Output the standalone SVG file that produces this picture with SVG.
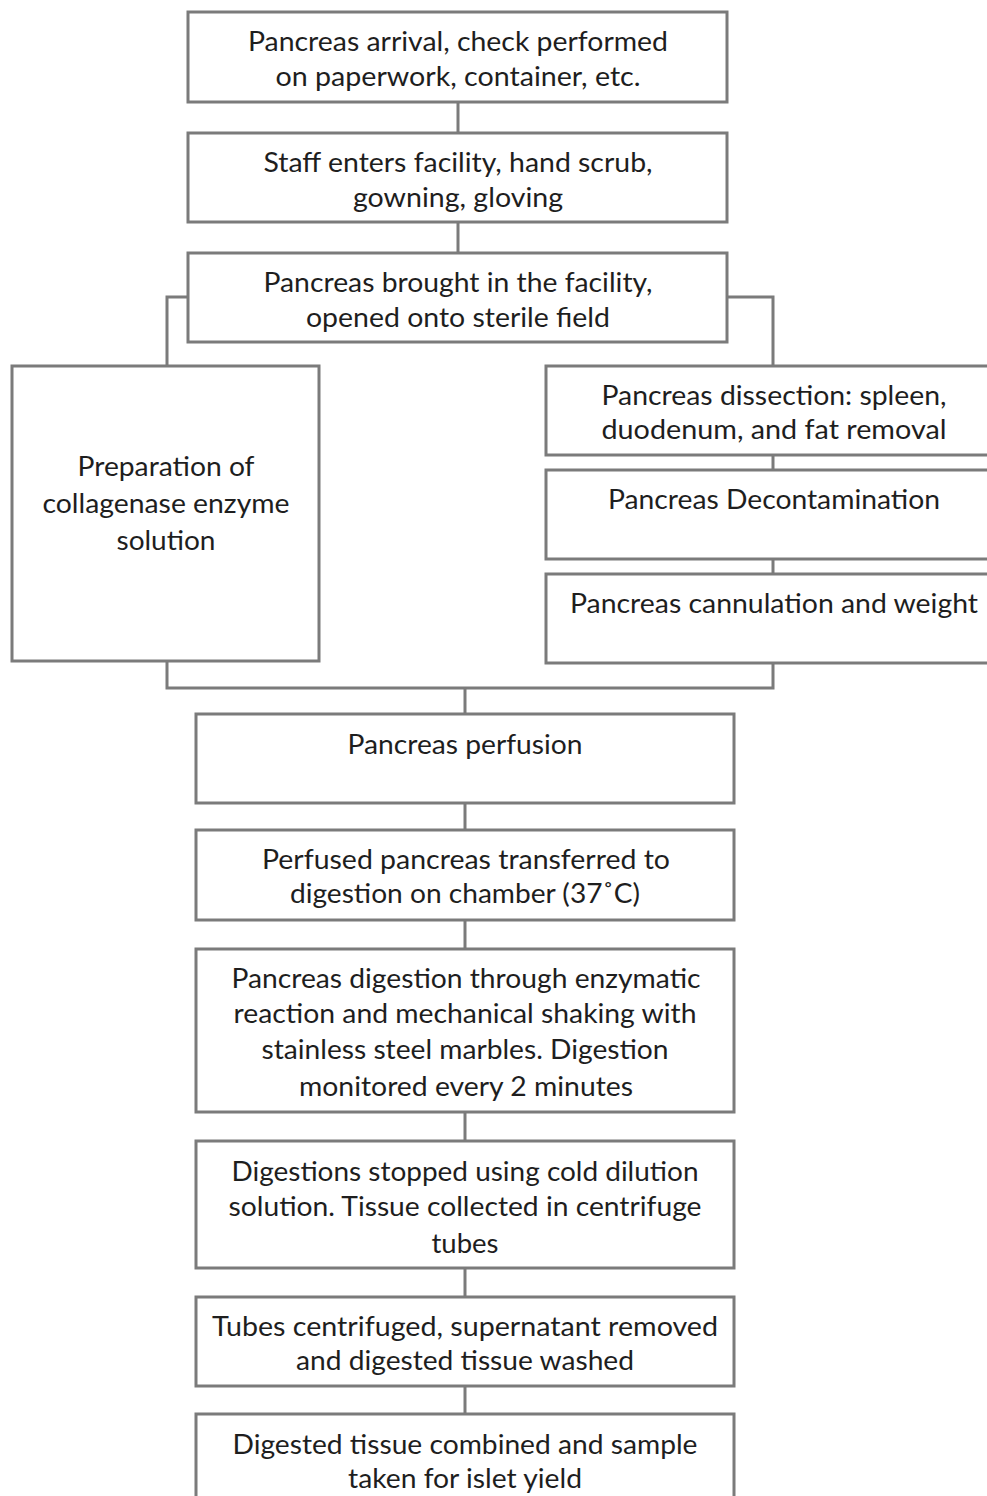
<svg xmlns="http://www.w3.org/2000/svg" width="987" height="1496" viewBox="0 0 987 1496">
  <style>
    .box { fill: #ffffff; stroke: #7b7b7b; stroke-width: 3; }
    .wire { fill: none; stroke: #7b7b7b; stroke-width: 3; }
    text { font-family: Lato, "Open Sans", "Liberation Sans", sans-serif; font-size: 26px; fill: #1e1e1e; text-anchor: middle; }
  </style>
  <rect width="987" height="1496" fill="#ffffff"/>

  <!-- connectors -->
  <g id="connectors">
    <path class="wire" d="M458 102 V133"/>
    <path class="wire" d="M458 222 V253"/>
    <path class="wire" d="M188 297 H167 V366"/>
    <path class="wire" d="M727 297 H773 V366"/>
    <path class="wire" d="M773 455 V470"/>
    <path class="wire" d="M773 559 V574"/>
    <path class="wire" d="M167 661 V688 H773 V663"/>
    <path class="wire" d="M465 688 V714"/>
    <path class="wire" d="M465 803 V830"/>
    <path class="wire" d="M465 920 V949"/>
    <path class="wire" d="M465 1112 V1141"/>
    <path class="wire" d="M465 1268 V1297"/>
    <path class="wire" d="M465 1386 V1414"/>
  </g>

  <g id="arrival">
    <rect class="box" x="188" y="12" width="539" height="90"/>
    <text x="458" y="51" textLength="420" lengthAdjust="spacingAndGlyphs">Pancreas arrival, check performed</text>
    <text x="458" y="86" textLength="365" lengthAdjust="spacingAndGlyphs">on paperwork, container, etc.</text>
  </g>

  <g id="staff">
    <rect class="box" x="188" y="133" width="539" height="89"/>
    <text x="458" y="172" textLength="389" lengthAdjust="spacingAndGlyphs">Staff enters facility, hand scrub,</text>
    <text x="458" y="207" textLength="210" lengthAdjust="spacingAndGlyphs">gowning, gloving</text>
  </g>

  <g id="opened">
    <rect class="box" x="188" y="253" width="539" height="89"/>
    <text x="458" y="292" textLength="389" lengthAdjust="spacingAndGlyphs">Pancreas brought in the facility,</text>
    <text x="458" y="327" textLength="304" lengthAdjust="spacingAndGlyphs">opened onto sterile field</text>
  </g>

  <g id="enzyme">
    <rect class="box" x="12" y="366" width="307" height="295"/>
    <text x="166" y="476" textLength="177" lengthAdjust="spacingAndGlyphs">Preparation of</text>
    <text x="166" y="513" textLength="247" lengthAdjust="spacingAndGlyphs">collagenase enzyme</text>
    <text x="166" y="550" textLength="99" lengthAdjust="spacingAndGlyphs">solution</text>
  </g>

  <g id="dissection">
    <rect class="box" x="546" y="366" width="460" height="89"/>
    <text x="774" y="405" textLength="345" lengthAdjust="spacingAndGlyphs">Pancreas dissection: spleen,</text>
    <text x="774" y="439" textLength="345" lengthAdjust="spacingAndGlyphs">duodenum, and fat removal</text>
  </g>

  <g id="decontamination">
    <rect class="box" x="546" y="470" width="460" height="89"/>
    <text x="774" y="509" textLength="332" lengthAdjust="spacingAndGlyphs">Pancreas Decontamination</text>
  </g>

  <g id="cannulation">
    <rect class="box" x="546" y="574" width="460" height="89"/>
    <text x="774" y="613" textLength="408" lengthAdjust="spacingAndGlyphs">Pancreas cannulation and weight</text>
  </g>

  <g id="perfusion">
    <rect class="box" x="196" y="714" width="538" height="89"/>
    <text x="465" y="754" textLength="235" lengthAdjust="spacingAndGlyphs">Pancreas perfusion</text>
  </g>

  <g id="transfer">
    <rect class="box" x="196" y="830" width="538" height="90"/>
    <text x="466" y="869" textLength="408" lengthAdjust="spacingAndGlyphs">Perfused pancreas transferred to</text>
    <text x="465" y="903" textLength="350" lengthAdjust="spacingAndGlyphs">digestion on chamber (37˚C)</text>
  </g>

  <g id="digestion">
    <rect class="box" x="196" y="949" width="538" height="163"/>
    <text x="466" y="988" textLength="469" lengthAdjust="spacingAndGlyphs">Pancreas digestion through enzymatic</text>
    <text x="465" y="1023" textLength="463" lengthAdjust="spacingAndGlyphs">reaction and mechanical shaking with</text>
    <text x="465" y="1059" textLength="407" lengthAdjust="spacingAndGlyphs">stainless steel marbles. Digestion</text>
    <text x="466" y="1096" textLength="334" lengthAdjust="spacingAndGlyphs">monitored every 2 minutes</text>
  </g>

  <g id="stopped">
    <rect class="box" x="196" y="1141" width="538" height="127"/>
    <text x="465" y="1181" textLength="467" lengthAdjust="spacingAndGlyphs">Digestions stopped using cold dilution</text>
    <text x="465" y="1216" textLength="473" lengthAdjust="spacingAndGlyphs">solution. Tissue collected in centrifuge</text>
    <text x="465" y="1253" textLength="67" lengthAdjust="spacingAndGlyphs">tubes</text>
  </g>

  <g id="centrifuged">
    <rect class="box" x="196" y="1297" width="538" height="89"/>
    <text x="465" y="1336" textLength="506" lengthAdjust="spacingAndGlyphs">Tubes centrifuged, supernatant removed</text>
    <text x="465" y="1370" textLength="338" lengthAdjust="spacingAndGlyphs">and digested tissue washed</text>
  </g>

  <g id="combined">
    <rect class="box" x="196" y="1414" width="538" height="100"/>
    <text x="465" y="1454" textLength="465" lengthAdjust="spacingAndGlyphs">Digested tissue combined and sample</text>
    <text x="465" y="1488" textLength="234" lengthAdjust="spacingAndGlyphs">taken for islet yield</text>
  </g>
</svg>
